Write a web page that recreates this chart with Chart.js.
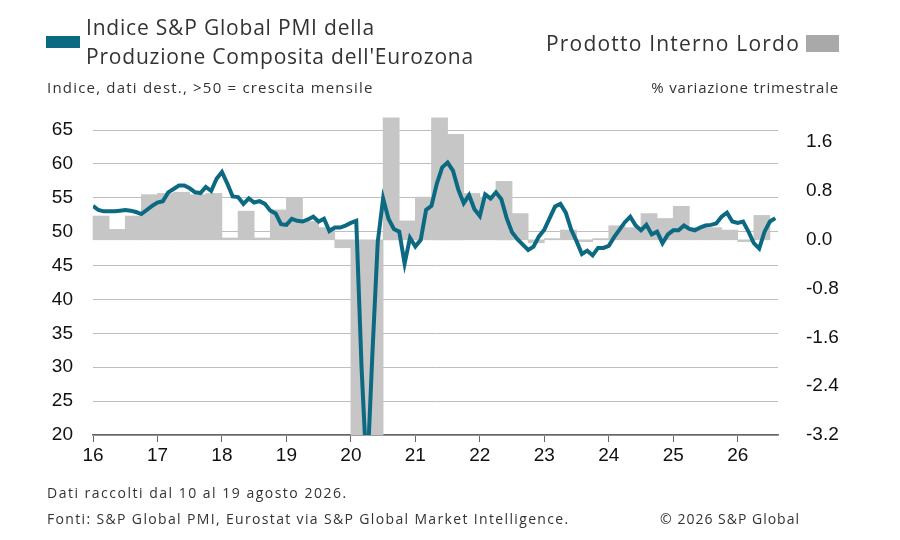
<!DOCTYPE html>
<html><head><meta charset="utf-8">
<script src="https://cdn.jsdelivr.net/npm/chart.js@4"></script>
<style>
body{margin:0;width:900px;height:540px;background:#fff;font-family:"Open Sans",sans-serif;color:#333;overflow:hidden}
.t{position:absolute;white-space:nowrap}
#c{position:absolute;left:0;top:0}
</style></head><body>
<canvas id="c" width="900" height="540"></canvas>
<div class="t" style="left:46px;top:36px;width:34px;height:12px;background:#0b6a82"></div>
<div class="t" style="left:86px;top:13px;font-size:21px;line-height:29px;letter-spacing:0.8px">Indice S&amp;P Global PMI della<br>Produzione Composita dell'Eurozona</div>
<div class="t" style="right:100px;top:29px;font-size:21px;letter-spacing:1.2px">Prodotto Interno Lordo</div>
<div class="t" style="left:806px;top:35px;width:33px;height:17px;background:#a9a9a9"></div>
<div class="t" style="left:47px;top:77px;font-size:15px;letter-spacing:1.2px">Indice, dati dest., &gt;50 = crescita mensile</div>
<div class="t" style="right:61px;top:77px;font-size:15px;letter-spacing:0.8px">% variazione trimestrale</div>
<div class="t" style="left:47px;top:483px;font-size:14px;letter-spacing:1.5px">Dati raccolti dal 10 al 19 agosto 2026.</div>
<div class="t" style="left:47px;top:509px;font-size:14px;letter-spacing:1.35px">Fonti: S&amp;P Global PMI, Eurostat via S&amp;P Global Market Intelligence.</div>
<div class="t" style="right:100px;top:509px;font-size:14px;letter-spacing:1px">© 2026 S&amp;P Global</div>
<script>
const yearLabels=['16','17','18','19','20','21','22','23','24','25','26'];
// Monthly PMI, Jan 2016 - Aug 2026
const pmi2016=[53.8,53.2,53.0,53.0,53.0,53.1,53.2,53.1,52.9,52.6,53.2,53.8];
const pmi2017=[54.3,54.5,55.8,56.3,56.8,56.8,56.4,55.8,55.7,56.6,56.0,57.8];
const pmi2018=[58.8,57.1,55.2,55.1,54.1,54.9,54.3,54.5,54.1,53.1,52.7,51.1];
const pmi2019=[51.0,51.9,51.6,51.5,51.8,52.2,51.5,51.9,50.1,50.6,50.6,50.9];
const pmi2020=[51.3,51.6,29.7,13.6,31.9,48.5,54.9,51.9,50.4,50.0,45.3,49.1];
const pmi2021=[47.8,48.8,53.2,53.8,57.1,59.5,60.2,59.0,56.2,54.2,55.4,53.3];
const pmi2022=[52.3,55.5,54.9,55.8,54.8,52.0,49.9,48.9,48.1,47.3,47.8,49.3];
const pmi2023=[50.3,52.0,53.7,54.1,52.8,50.3,48.6,46.7,47.2,46.5,47.6,47.6];
const pmi2024=[47.9,49.2,50.3,51.4,52.2,50.9,50.2,51.0,49.6,50.0,48.3,49.6];
const pmi2025=[50.2,50.2,50.9,50.4,50.2,50.6,50.9,51.0,51.2,52.2,52.8,51.5];
const pmi2026=[51.3,51.5,50.0,48.3,47.5,50.0,51.5,52.0];
// Quarterly GDP % q/q from 2016Q1 (bars beyond the axis shown as drawn, capped)
const gdpQ=[0.39,0.17,0.39,0.74, 0.76,0.78,0.74,0.76, 0.03,0.47,0.03,0.49, 0.69,0.30,0.20,-0.13,
 -3.2,-3.2,2.0,0.31, 0.70,2.0,1.73,0.76, 0.70,0.96,0.43,-0.05, 0.02,0.16,-0.03,0.02,
 0.23,0.20,0.43,0.35, 0.55,0.20,0.20,0.16, -0.03,0.40];

const pmi=[].concat(pmi2016,pmi2017,pmi2018,pmi2019,pmi2020,pmi2021,pmi2022,pmi2023,pmi2024,pmi2025,pmi2026);
const lineData=pmi.map((v,i)=>({x:i,y:v}));
const barData=gdpQ.map((v,i)=>({x:i*3+1.5,y:v}));
const font={family:'"Liberation Sans", Arial, sans-serif',size:19};
new Chart(document.getElementById('c'),{
 data:{datasets:[
  {type:'line',data:lineData,yAxisID:'y',borderColor:'#0b6a82',borderWidth:4,pointRadius:0,tension:0,order:1},
  {type:'bar',data:barData,yAxisID:'y2',backgroundColor:'#c6c6c6',barPercentage:1,categoryPercentage:1,clip:false,order:2}
 ]},
 options:{responsive:false,animation:false,
  layout:{padding:{top:130,bottom:70,left:0,right:0}},
  plugins:{legend:{display:false},tooltip:{enabled:false}},
  scales:{
   x:{type:'linear',min:0,max:127.5,offset:false,
     afterBuildTicks:s=>{s.ticks=yearLabels.map((l,i)=>({value:i*12}));},
     ticks:{callback:v=>yearLabels[v/12],color:'#111',font:font,maxRotation:0,autoSkip:false,padding:2},
     grid:{drawOnChartArea:false,color:'#666',tickLength:7,offset:false},
     border:{color:'#666',width:1.5},
     afterFit:s=>{s.height=35;}},
   y:{position:'left',min:20,max:65,
     afterBuildTicks:s=>{s.ticks=[20,25,30,35,40,45,50,55,60,65].map(v=>({value:v}));},
     ticks:{color:'#111',font:font,padding:20},
     grid:{color:'#bdbdbd',drawTicks:false},border:{display:false},
     afterFit:s=>{s.width=93;}},
   y2:{position:'right',min:-3.2,max:1.8,
     afterBuildTicks:s=>{s.ticks=[-3.2,-2.4,-1.6,-0.8,0,0.8,1.6].map(v=>({value:v}));},
     ticks:{color:'#111',font:font,padding:20,callback:v=>v.toFixed(1)},
     grid:{display:false},border:{display:false},
     afterFit:s=>{s.width=122;}}
  }}
});
</script></body></html>
